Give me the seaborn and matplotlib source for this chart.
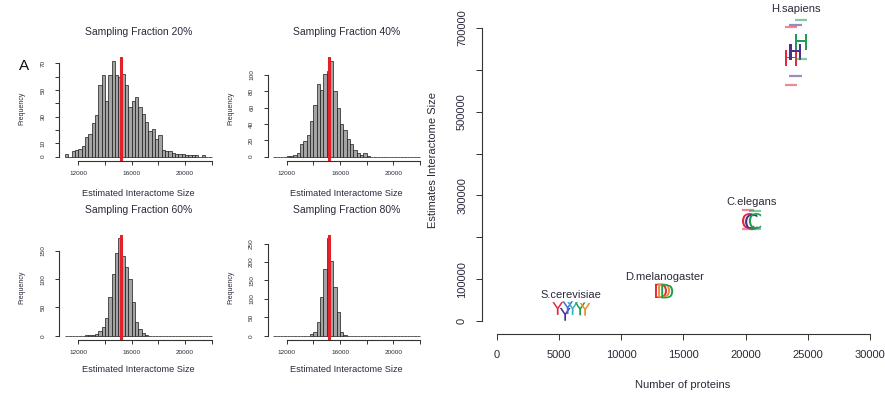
import numpy as np
import pandas as pd
import matplotlib
matplotlib.use('Agg')
import matplotlib.pyplot as plt
import seaborn as sns

sns.set_style('ticks')
plt.rcParams['font.family'] = ['Liberation Sans', 'DejaVu Sans']

# ---------------- data ----------------
bin_start = 11000
bin_end = 22000
bin_width = 250
fractions = ['20%', '40%', '60%', '80%']
counts20 = [2, 0, 4, 5, 6, 8, 15, 17, 25, 31, 54, 61, 42, 61, 72, 61, 60, 62, 54, 37, 42, 45,
            37, 32, 26, 19, 21, 13, 16, 5, 4, 4, 3, 2, 2, 2, 1, 1, 1, 1, 0, 1, 0, 0]
counts40 = [0, 0, 0, 0, 1, 1, 2, 4, 15, 19, 27, 44, 63, 89, 81, 101, 104, 117, 80, 60, 40, 33,
            22, 15, 8, 4, 2, 4, 1, 0, 0, 0, 0, 0, 0, 0, 0, 0, 0, 0, 0, 0, 0, 0]
counts60 = [0, 0, 0, 0, 0, 0, 1, 1, 1, 3, 8, 16, 31, 68, 109, 146, 172, 140, 122, 100, 59, 24,
            12, 5, 1, 0, 0, 0, 0, 0, 0, 0, 0, 0, 0, 0, 0, 0, 0, 0, 0, 0, 0, 0]
counts80 = [0, 0, 0, 0, 0, 0, 0, 0, 0, 0, 0, 4, 11, 38, 104, 180, 264, 203, 131, 63, 11, 2,
            0, 0, 0, 0, 0, 0, 0, 0, 0, 0, 0, 0, 0, 0, 0, 0, 0, 0, 0, 0, 0, 0]
hist_counts = [counts20, counts40, counts60, counts80]
hist_means = [15175, 15175, 15170, 15170]
hist_xticks = [12000, 14000, 16000, 18000, 20000, 22000]
hist_xticklabels = ['12000', '', '16000', '', '20000', '']
hist_yticks = [[0, 10, 20, 30, 40, 50, 60, 70],
               [0, 20, 40, 60, 80, 100],
               [0, 50, 100, 150],
               [0, 50, 100, 150, 200, 250]]
hist_yticklabels = [['0', '10', '', '30', '', '50', '', '70'],
                    ['0', '20', '40', '60', '80', '100'],
                    ['0', '50', '100', '150'],
                    ['0', '50', '100', '150', '200', '250']]

species = ['S.cerevisiae'] * 6 + ['D.melanogaster'] * 3 + ['C.elegans'] * 3 + ['H.sapiens'] * 3
dataset = ['d1', 'd2', 'd3', 'd4', 'd5', 'd6',
           'd1', 'd6', 'd5',
           'd1', 'd2', 'd5',
           'd1', 'd2', 'd5']
n_proteins = [4900, 5500, 5700, 6100, 6700, 7100,
              13200, 13450, 13700,
              20200, 20450, 20750,
              23650, 24000, 24450]
est_size = [30000, 16000, 32000, 30000, 29000, 28000,
            72000, 73000, 71000,
            239000, 237000, 239000,
            628000, 643000, 667000]
ci_low = [np.nan] * 9 + [220000, np.nan, 220000, 564000, 585000, 627000]
ci_high = [np.nan] * 9 + [265000, np.nan, 263000, 702000, 707000, 719000]
species_names = ['S.cerevisiae', 'D.melanogaster', 'C.elegans', 'H.sapiens']
species_letters = ['Y', 'D', 'C', 'H']
label_x = [5950, 13500, 20500, 24000]
label_y = [62000, 105000, 284000, 745000]
scatter_xticks = [0, 5000, 10000, 15000, 20000, 25000, 30000]
scatter_yticks = [0, 100000, 200000, 300000, 400000, 500000, 600000, 700000]
scatter_yticklabels = ['0', '100000', '', '300000', '', '500000', '', '700000']

# ---------------- layout ----------------
W, H = 885, 394
fig = plt.figure(figsize=(W / 100, H / 100), dpi=100)
TEXT = '#2a2a3a'
AXC = '#333333'


def add_ax(x0, y0, x1, y1):
    return fig.add_axes([x0 / W, 1 - y1 / H, (x1 - x0) / W, (y1 - y0) / H])


def ax_coords(rect, px, py):
    x0, y0, x1, y1 = rect
    return (px - x0) / (x1 - x0), (y1 - py) / (y1 - y0)


rects = [(59, 57, 217.5, 160.5), (267.5, 57, 426, 160.5),
         (59, 234.5, 217.5, 339.6), (267.5, 234.5, 426, 339.6)]
title_y = [40, 40, 218, 218]
xlabel_y = [193, 193, 370, 370]
ylabel_x = [22, 231, 22, 231]

span = bin_end - bin_start
for i in range(4):
    rect = rects[i]
    ax = add_ax(*rect)
    c = hist_counts[i]
    centers = bin_start + bin_width * (np.arange(len(c)) + 0.5)
    hdf = pd.DataFrame({'center': centers, 'count': c})
    sns.histplot(data=hdf, x='center', weights='count', binwidth=bin_width,
                 binrange=(bin_start, bin_end), ax=ax, color='#A4A4A4',
                 edgecolor='#1a1a1a', linewidth=0.5, alpha=1)
    ax.axvline(hist_means[i], color='#E3202C', lw=2.2)
    ymax = max(c)
    ax.set_ylim(-0.04 * ymax, 1.04 * ymax)
    ax.set_xlim(bin_start - 0.04 * span, bin_end + 0.04 * span)
    for s in ['top', 'right']:
        ax.spines[s].set_visible(False)
    ax.spines['left'].set_bounds(0, hist_yticks[i][-1])
    ax.spines['bottom'].set_bounds(hist_xticks[0], hist_xticks[-1])
    for s in ['left', 'bottom']:
        ax.spines[s].set_color(AXC)
        ax.spines[s].set_linewidth(0.8)
    ax.set_xticks(hist_xticks)
    ax.set_xticklabels(hist_xticklabels)
    ax.set_yticks(hist_yticks[i])
    ax.set_yticklabels(hist_yticklabels[i], rotation=90, va='center')
    ax.tick_params(axis='both', length=2.6, width=0.7, color=AXC, labelsize=4.6, labelcolor=TEXT)
    ax.tick_params(axis='x', pad=5)
    ax.tick_params(axis='y', pad=7)
    ax.set_xlabel('Estimated Interactome Size', fontsize=6.6, color=TEXT, va='center')
    ax.xaxis.set_label_coords(*ax_coords(rect, (rect[0] + rect[2]) / 2, xlabel_y[i]))
    ax.set_ylabel('Frequency', fontsize=5, color=TEXT, va='center')
    ax.yaxis.set_label_coords(*ax_coords(rect, ylabel_x[i], (rect[1] + rect[3]) / 2))
    tx, ty = ax_coords(rect, (rect[0] + rect[2]) / 2, title_y[i])
    ax.set_title('Sampling Fraction ' + fractions[i], fontsize=7.5, color=TEXT, y=ty, va='center')

fig.text(24 / W, 1 - 66 / H, 'A', fontsize=11, ha='center', va='center', color='#111111')

# ---------------- scatter panel ----------------
rect_s = (481.8, 0, 885, 333.6)
ax = add_ax(*rect_s)
df = pd.DataFrame({'species': species, 'dataset': dataset, 'proteins': n_proteins,
                   'size': est_size, 'lo': ci_low, 'hi': ci_high})
palette = {'d1': '#E3283F', 'd2': '#4B2C8F', 'd3': '#3F6FD8', 'd4': '#2FB5C8',
           'd5': '#1E9E52', 'd6': '#E8922E'}
markers = {sp: r'$\mathsf{%s}$' % L for sp, L in zip(species_names, species_letters)}
marker_sizes = {'S.cerevisiae': 85, 'D.melanogaster': 105, 'C.elegans': 130, 'H.sapiens': 130}

cap_half = 500
for _, r in df.dropna(subset=['lo']).iterrows():
    ax.hlines([r['lo'], r['hi']], r['proteins'] - cap_half, r['proteins'] + cap_half,
              colors=palette[r['dataset']], lw=1.6, alpha=0.55)

sns.scatterplot(data=df, x='proteins', y='size', hue='dataset', style='species',
                size='species', sizes=marker_sizes,
                markers=markers, palette=palette, linewidth=0, legend=False, ax=ax)

for name, lx, ly in zip(species_names, label_x, label_y):
    ax.text(lx, ly, name, ha='center', va='center', fontsize=8, color=TEXT)

ax.set_xlim(-1200, 31200)
ax.set_ylim(-30000, 766800)
for s in ['top', 'right']:
    ax.spines[s].set_visible(False)
ax.spines['left'].set_bounds(0, 700000)
ax.spines['bottom'].set_bounds(0, 30000)
for s in ['left', 'bottom']:
    ax.spines[s].set_color(AXC)
    ax.spines[s].set_linewidth(0.8)
ax.set_xticks(scatter_xticks)
ax.set_xticklabels([str(v) for v in scatter_xticks])
ax.set_yticks(scatter_yticks)
ax.set_yticklabels(scatter_yticklabels, rotation=90, va='center')
ax.tick_params(axis='both', length=4.1, width=0.7, color=AXC, labelsize=8, labelcolor=TEXT)
ax.tick_params(axis='x', pad=8)
ax.tick_params(axis='y', pad=6.5)
ax.set_xlabel('Number of proteins', fontsize=8, color=TEXT, va='center')
ax.xaxis.set_label_coords(*ax_coords(rect_s, 683, 385))
ax.set_ylabel('Estimates Interactome Size', fontsize=8, color=TEXT, va='center')
ax.yaxis.set_label_coords(*ax_coords(rect_s, 433, 160))
ax.patch.set_alpha(0)

fig.savefig('out.png', dpi=100)
